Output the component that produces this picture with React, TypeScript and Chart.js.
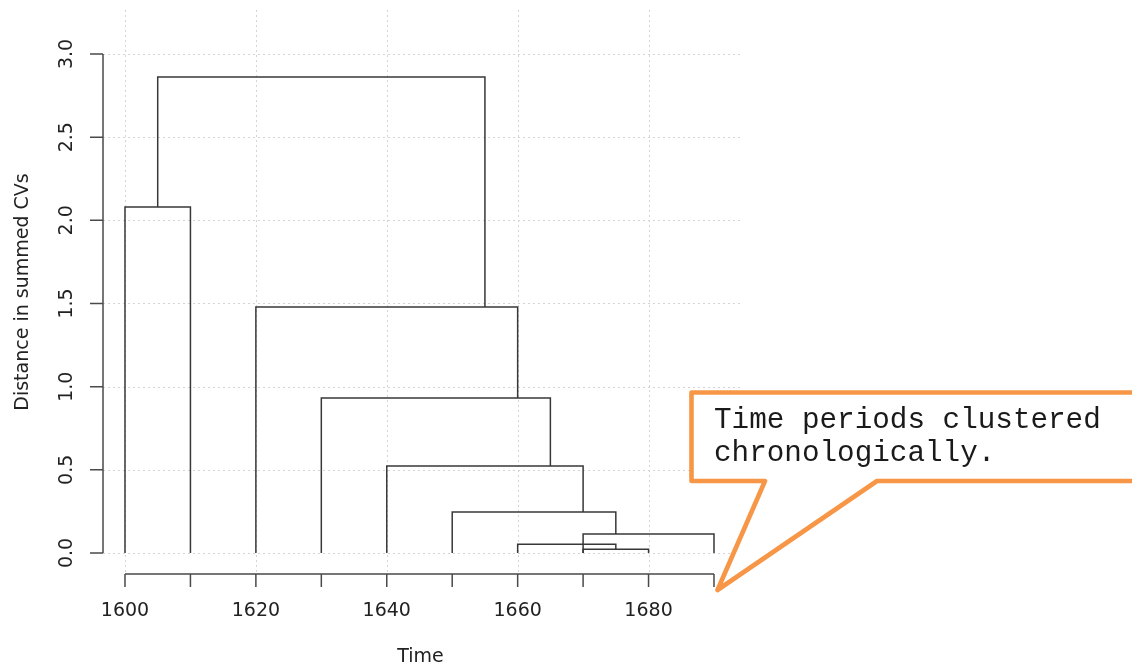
import React, { useEffect, useRef } from "react";
import { Chart, registerables } from "chart.js";

Chart.register(...registerables);

// ---- data ----
const xTickValues = [1600, 1610, 1620, 1630, 1640, 1650, 1660, 1670, 1680, 1690];
const xTickLabels = ["1600", "", "1620", "", "1640", "", "1660", "", "1680", ""];
const xGridValues = [1600, 1620, 1640, 1660, 1680];
const yTickValues = [0, 0.5, 1, 1.5, 2, 2.5, 3];
const yTickLabels = ["0.0", "0.5", "1.0", "1.5", "2.0", "2.5", "3.0"];

// each merge: left x, right x, merge height, base height of left and right legs
const mergeLeftX = [1600, 1605, 1620, 1630, 1640, 1650, 1670, 1660, 1670];
const mergeRightX = [1610, 1655, 1660, 1665, 1670, 1675, 1690, 1675, 1680];
const mergeHeight = [2.08, 2.862, 1.479, 0.932, 0.523, 0.247, 0.114, 0.052, 0.022];
const mergeLeftBase = [0, 2.08, 0, 0, 0, 0, 0, 0, 0];
const mergeRightBase = [0, 1.479, 0.932, 0.523, 0.247, 0.114, 0, 0.022, 0];

const xTitle = "Time";
const yTitle = "Distance in summed CVs";
const calloutLines = ["Time periods clustered", "chronologically."];

const W = 1132;
const H = 666;

export default function App() {
  const ref = useRef<HTMLCanvasElement>(null);

  useEffect(() => {
    const canvas = ref.current!;
    const datasets = mergeHeight.map((h, i) => ({
      data: [
        { x: mergeLeftX[i], y: mergeLeftBase[i] },
        { x: mergeLeftX[i], y: h },
        { x: mergeRightX[i], y: h },
        { x: mergeRightX[i], y: mergeRightBase[i] },
      ],
      showLine: true,
      borderColor: "#383838",
      borderWidth: 1.5,
      pointRadius: 0,
      pointHoverRadius: 0,
      fill: false,
      tension: 0,
      borderJoinStyle: "miter" as const,
      borderCapStyle: "butt" as const,
    }));

    const rAxes = {
      id: "rAxes",
      beforeDatasetsDraw(chart: any) {
        const { ctx, chartArea, scales } = chart;
        const xs = scales.x;
        const ys = scales.y;
        ctx.save();
        ctx.strokeStyle = "#d4d4d4";
        ctx.lineWidth = 1;
        ctx.setLineDash([2, 3]);
        for (const v of xGridValues) {
          const px = Math.round(xs.getPixelForValue(v)) + 0.5;
          ctx.beginPath();
          ctx.moveTo(px, chartArea.top);
          ctx.lineTo(px, chartArea.bottom);
          ctx.stroke();
        }
        for (const v of yTickValues) {
          const py = Math.round(ys.getPixelForValue(v)) + 0.5;
          ctx.beginPath();
          ctx.moveTo(chartArea.left, py);
          ctx.lineTo(chartArea.right, py);
          ctx.stroke();
        }
        ctx.restore();
      },
      afterDatasetsDraw(chart: any) {
        const { ctx, chartArea, scales } = chart;
        const xs = scales.x;
        const ys = scales.y;
        ctx.save();
        ctx.strokeStyle = "#4a4a4a";
        ctx.lineWidth = 1.5;
        ctx.setLineDash([]);
        // y axis
        const ax = chartArea.left;
        const y0 = ys.getPixelForValue(yTickValues[0]);
        const y1 = ys.getPixelForValue(yTickValues[yTickValues.length - 1]);
        ctx.beginPath();
        ctx.moveTo(ax, y0);
        ctx.lineTo(ax, y1);
        for (const v of yTickValues) {
          const py = ys.getPixelForValue(v);
          ctx.moveTo(ax, py);
          ctx.lineTo(ax - 13, py);
        }
        ctx.stroke();
        // x axis
        const ay = chartArea.bottom;
        const x0 = xs.getPixelForValue(xTickValues[0]);
        const x1 = xs.getPixelForValue(xTickValues[xTickValues.length - 1]);
        ctx.beginPath();
        ctx.moveTo(x0, ay);
        ctx.lineTo(x1, ay);
        for (const v of xTickValues) {
          const px = xs.getPixelForValue(v);
          ctx.moveTo(px, ay);
          ctx.lineTo(px, ay + 13);
        }
        ctx.stroke();

        ctx.fillStyle = "#222";
        ctx.font = "19px 'DejaVu Sans'";
        ctx.textAlign = "center";
        ctx.textBaseline = "alphabetic";
        xTickValues.forEach((v, i) => {
          const lab = xTickLabels[i];
          if (!lab) return;
          ctx.fillText(lab, xs.getPixelForValue(v), 616);
        });
        yTickValues.forEach((v, i) => {
          ctx.save();
          ctx.translate(72, ys.getPixelForValue(v));
          ctx.rotate(-Math.PI / 2);
          ctx.fillText(yTickLabels[i], 0, 0);
          ctx.restore();
        });
        ctx.font = "19px 'DejaVu Sans'";
        ctx.fillText(xTitle, (chartArea.left + chartArea.right) / 2 - 2, 662);
        ctx.save();
        ctx.translate(28, (chartArea.top + chartArea.bottom) / 2);
        ctx.rotate(-Math.PI / 2);
        ctx.fillText(yTitle, 0, 0);
        ctx.restore();
        ctx.restore();
      },
    };

    const chart = new Chart(canvas, {
      type: "scatter",
      data: { datasets: datasets as any },
      options: {
        responsive: false,
        animation: false,
        devicePixelRatio: 1,
        layout: { padding: { left: 103, right: W - 742, top: 10, bottom: H - 574 } },
        scales: {
          x: { type: "linear", min: 1596.64, max: 1694.28, display: false },
          y: { type: "linear", min: -0.1263, max: 3.2645, display: false },
        },
        plugins: {
          legend: { display: false },
          tooltip: { enabled: false },
        },
      },
      plugins: [rAxes],
    });
    return () => chart.destroy();
  }, []);

  return (
    <div style={{ position: "fixed", left: 0, top: 0, width: W, height: H, background: "#fff", overflow: "hidden" }}>
      <canvas ref={ref} width={W} height={H} style={{ position: "absolute", left: 0, top: 0, width: W, height: H }} />
      <svg width={W} height={H} style={{ position: "absolute", left: 0, top: 0, pointerEvents: "none" }}>
        <path
          d="M 765 481 L 691.5 481 L 691.5 392.5 L 1145 392.5 L 1145 481 L 877 481 L 717.5 590 Z"
          fill="#ffffff"
          stroke="#F79646"
          strokeWidth={4.6}
          strokeLinejoin="round"
        />
      </svg>
      <div
        style={{
          position: "absolute",
          left: 714,
          top: 405.3,
          fontFamily: "'Liberation Mono', monospace",
          fontSize: "29.3px",
          lineHeight: "32.4px",
          color: "#1a1a1a",
          whiteSpace: "pre",
        }}
      >
        {calloutLines.map((l, i) => (
          <div key={i}>{l}</div>
        ))}
      </div>
    </div>
  );
}
